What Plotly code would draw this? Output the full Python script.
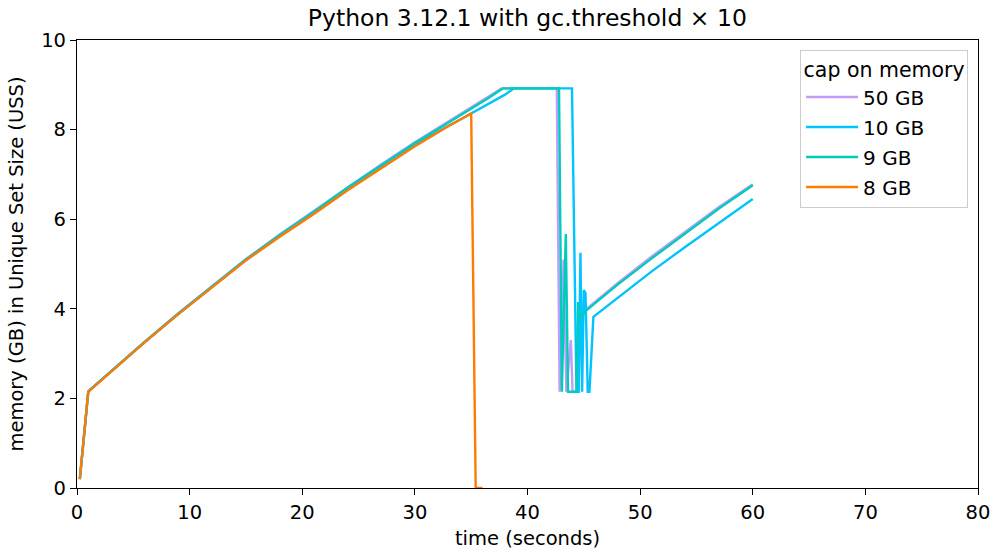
import plotly.graph_objects as go

# Memory traces (time in seconds, memory in GB of unique set size)
time_50gb = [0.25, 1.0, 1.2, 3.5, 6.0, 9.0, 12.0, 15.0, 18.0, 21.0, 24.0, 27.0, 30.0, 33.0, 35.0,
             36.5, 37.7, 42.6, 42.85, 43.2, 43.45, 43.85, 44.0, 44.5, 44.7, 45.2, 48.0, 51.0, 54.0, 57.0, 60.0]
mem_50gb = [0.2, 2.15, 2.2, 2.71, 3.26, 3.9, 4.51, 5.11, 5.66, 6.18, 6.72, 7.22, 7.72, 8.19, 8.5,
            8.74, 8.92, 8.92, 2.15, 5.1, 2.15, 3.3, 2.15, 2.15, 3.8, 3.99, 4.57, 5.16, 5.72, 6.27, 6.78]

time_10gb = [0.25, 1.0, 1.2, 3.5, 6.0, 9.0, 12.0, 15.0, 18.0, 21.0, 24.0, 27.0, 30.0, 32.0, 34.0,
             36.0, 38.0, 38.8, 43.95, 44.35, 44.55, 44.7, 44.85, 45.0, 45.15, 45.35, 45.5, 45.85,
             48.0, 51.0, 54.0, 57.0, 60.0]
mem_10gb = [0.2, 2.15, 2.2, 2.71, 3.25, 3.89, 4.5, 5.09, 5.63, 6.14, 6.67, 7.17, 7.66, 7.95, 8.22,
            8.5, 8.78, 8.92, 8.92, 2.15, 2.15, 5.25, 2.15, 4.42, 4.35, 2.15, 2.15, 3.82,
            4.25, 4.83, 5.38, 5.92, 6.45]

time_9gb = [0.25, 1.0, 1.2, 3.5, 6.0, 9.0, 12.0, 15.0, 18.0, 21.0, 24.0, 27.0, 30.0, 33.0, 35.0,
            36.5, 37.8, 42.8, 43.05, 43.4, 43.6, 44.35, 44.5, 44.65, 45.2, 48.0, 51.0, 54.0, 57.0, 60.0]
mem_9gb = [0.2, 2.15, 2.2, 2.71, 3.26, 3.89, 4.5, 5.1, 5.65, 6.16, 6.7, 7.2, 7.7, 8.16, 8.46,
           8.7, 8.92, 8.92, 2.15, 5.67, 2.15, 2.15, 4.15, 3.8, 3.96, 4.54, 5.12, 5.68, 6.24, 6.76]

time_8gb = [0.25, 1.0, 1.2, 3.5, 6.0, 9.0, 12.0, 15.0, 18.0, 21.0, 24.0, 27.0, 30.0, 33.0, 35.0,
            35.4, 36.0]
mem_8gb = [0.2, 2.15, 2.19, 2.7, 3.25, 3.88, 4.49, 5.08, 5.61, 6.11, 6.64, 7.14, 7.63, 8.08, 8.36,
           0.0, 0.0]

series_names = ["50 GB", "10 GB", "9 GB", "8 GB"]
series_colors = ["#c29cfb", "#00c3ff", "#00ccbb", "#ff7a00"]
series_time = [time_50gb, time_10gb, time_9gb, time_8gb]
series_mem = [mem_50gb, mem_10gb, mem_9gb, mem_8gb]

x_ticks = [0, 10, 20, 30, 40, 50, 60, 70, 80]
y_ticks = [0, 2, 4, 6, 8, 10]

FONT = "DejaVu Sans"
FS = 19.5

fig = go.Figure()
for name, color, t, m in zip(series_names, series_colors, series_time, series_mem):
    fig.add_trace(go.Scatter(
        x=t, y=m, mode="lines", name=name, legendgroup=name,
        line=dict(color=color, width=2.4),
    ))

axis_common = dict(
    showline=True, linecolor="black", linewidth=1.2, mirror=True,
    ticks="outside", ticklen=6, tickwidth=1.2, tickcolor="black",
    showgrid=False, zeroline=False, automargin=False,
    tickfont=dict(family=FONT, size=FS, color="black"),
)

fig.update_layout(
    width=995, height=550,
    margin=dict(l=77, r=17, t=40, b=62),
    paper_bgcolor="white", plot_bgcolor="white",
    font=dict(family=FONT, size=FS, color="black"),
    title=dict(text="Python 3.12.1 with gc.threshold × 10", x=0.53, xanchor="center",
               y=0.968, yanchor="middle",
               font=dict(family=FONT, size=23.5, color="black")),
    xaxis=dict(range=[0, 80], tickvals=x_ticks,
               title=dict(text="time (seconds)", font=dict(family=FONT, size=FS), standoff=12),
               **axis_common),
    yaxis=dict(range=[0, 10], tickvals=y_ticks,
               title=dict(text="memory (GB) in Unique Set Size (USS)", font=dict(family=FONT, size=FS),
                          standoff=12),
               **axis_common),
    legend=dict(
        x=0.989, y=0.978, xanchor="right", yanchor="top",
        bgcolor="white", bordercolor="#cccccc", borderwidth=1,
        font=dict(family=FONT, size=20, color="black"),
        title=dict(text="cap on memory", side="top center", font=dict(family=FONT, size=20.5)),
        tracegroupgap=1, itemwidth=52,
    ),
    showlegend=True,
)

fig.write_html("out.html")
